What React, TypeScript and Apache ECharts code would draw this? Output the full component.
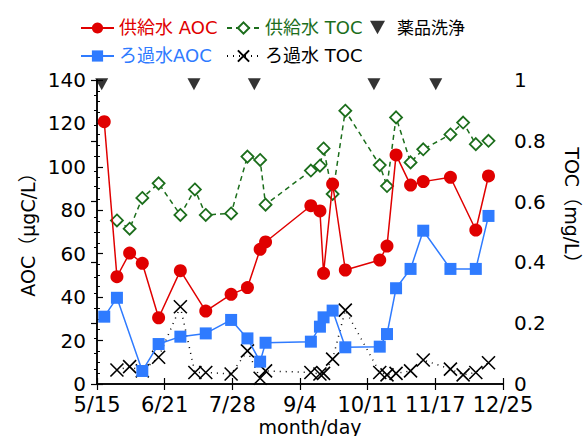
import React, { useEffect, useRef } from "react";
import * as echarts from "echarts";

// x values are days counted from 5/15
const xTickLabels = ["5/15", "6/21", "7/28", "9/4", "10/11", "11/17", "12/25"];
const xMaxDay = 224;

const supplyAocDays = [4, 11, 18, 25, 34, 46, 60, 74, 83, 90, 93, 118, 123, 125, 130, 137, 156, 160, 165, 173, 180, 195, 209, 216];
const supplyAocValues = [120.8, 49.4, 60.3, 55.6, 30.5, 52.2, 33.6, 41.3, 44.4, 62.0, 65.4, 82.1, 79.7, 51.0, 92.1, 52.5, 57.1, 63.5, 105.5, 91.6, 93.2, 95.2, 70.9, 95.8];

const supplyTocDays = [11, 18, 25, 34, 46, 54, 60, 74, 83, 90, 93, 118, 123, 125, 130, 137, 156, 160, 165, 173, 180, 195, 202, 209, 216];
const supplyTocValues = [0.538, 0.511, 0.612, 0.66, 0.556, 0.64, 0.556, 0.561, 0.748, 0.737, 0.59, 0.702, 0.718, 0.775, 0.625, 0.899, 0.72, 0.651, 0.877, 0.729, 0.772, 0.821, 0.86, 0.789, 0.8];

const filteredAocDays = [4, 11, 25, 34, 46, 60, 74, 83, 90, 93, 118, 123, 125, 130, 137, 156, 160, 165, 173, 180, 195, 209, 216];
const filteredAocValues = [31.0, 39.7, 6.0, 18.4, 21.8, 23.3, 29.5, 21.0, 10.3, 19.0, 19.5, 26.4, 30.7, 33.8, 16.9, 17.2, 23.0, 44.1, 53.0, 70.6, 53.0, 53.0, 77.4];

const filteredTocDays = [11, 18, 25, 34, 46, 54, 60, 74, 83, 90, 93, 118, 123, 125, 130, 137, 156, 160, 165, 173, 180, 195, 202, 209, 216];
const filteredTocValues = [0.046, 0.057, 0.043, 0.088, 0.254, 0.038, 0.038, 0.033, 0.109, 0.019, 0.043, 0.038, 0.033, 0.035, 0.082, 0.243, 0.038, 0.03, 0.035, 0.043, 0.079, 0.049, 0.03, 0.038, 0.07];

const cleaningDays = [2.6, 53.5, 86.8, 152.8, 186.9];
const cleaningLevel = 138.0;

const FONT = "'DejaVu Sans', 'Noto Sans CJK JP', sans-serif";
const RED = "#e00000";
const GREEN = "#1c6e1c";
const BLUE = "#2f7bff";
const BLACK = "#000000";

const zip = (xs: number[], ys: number[]) => xs.map((x, i) => [x, ys[i]]);

export default function App() {
  const ref = useRef<HTMLDivElement>(null);
  useEffect(() => {
    document.body.style.margin = "0";
    if (!ref.current) return;
    const chart = echarts.init(ref.current, null, { renderer: "svg" });
    const step = xMaxDay / 6;
    const xLabel = (v: number) => xTickLabels[Math.round(v / step)] ?? "";
    const axisLine = { show: true, lineStyle: { color: BLACK, width: 1.5 } };
    const legendBase = {
      itemWidth: 33,
      itemHeight: 14,
      selectedMode: false,
      textStyle: { fontSize: 18, fontFamily: FONT },
    };
    chart.setOption({
      animation: false,
      backgroundColor: "#ffffff",
      textStyle: { fontFamily: FONT },
      grid: { left: 97, right: 81, top: 80, bottom: 52, containLabel: false },
      legend: [
        { ...legendBase, left: 75, top: 14, data: [{ name: "供給水 AOC", textStyle: { color: RED } }] },
        { ...legendBase, left: 221, top: 14, data: [{ name: "供給水 TOC", textStyle: { color: GREEN } }] },
        { ...legendBase, left: 365, top: 14, itemWidth: 15, itemHeight: 14, data: [{ name: "薬品洗浄", textStyle: { color: BLACK, fontSize: 17, padding: [0, 0, 0, 7] } }] },
        { ...legendBase, left: 75, top: 42, data: [{ name: "ろ過水AOC", textStyle: { color: BLUE } }] },
        { ...legendBase, left: 221, top: 42, data: [{ name: "ろ過水 TOC", textStyle: { color: BLACK } }] },
      ],
      xAxis: [
        {
          type: "value",
          position: "bottom",
          min: 0,
          max: xMaxDay,
          interval: step,
          axisLine,
          axisTick: { show: true, inside: true, length: 6, lineStyle: { color: BLACK, width: 1.2 } },
          axisLabel: { fontSize: 21, color: BLACK, margin: 10, formatter: xLabel, fontFamily: FONT },
          splitLine: { show: false },
        },
        {
          type: "value",
          position: "top",
          min: 0,
          max: xMaxDay,
          interval: step,
          axisLine,
          axisTick: { show: true, inside: true, length: 6, lineStyle: { color: BLACK, width: 1.2 } },
          axisLabel: { show: false },
          splitLine: { show: false },
        },
      ],
      yAxis: [
        {
          type: "value",
          position: "left",
          min: 0,
          max: 140,
          interval: 20,
          axisLine,
          axisTick: { show: true, inside: true, length: 6, lineStyle: { color: BLACK, width: 1.2 } },
          minorTick: { show: true, splitNumber: 4, length: 3, lineStyle: { color: BLACK, width: 1 } },
          axisLabel: { fontSize: 20, color: BLACK, margin: 11, fontFamily: FONT },
          splitLine: { show: false },
        },
        {
          type: "value",
          position: "right",
          min: 0,
          max: 1,
          interval: 0.2,
          axisLine,
          axisTick: { show: true, inside: true, length: 6, lineStyle: { color: BLACK, width: 1.2 } },
          minorTick: { show: true, splitNumber: 4, length: 3, lineStyle: { color: BLACK, width: 1 } },
          axisLabel: {
            fontSize: 20,
            color: BLACK,
            margin: 11,
            fontFamily: FONT,
            formatter: (v: number) => String(Math.round(v * 10) / 10),
          },
          splitLine: { show: false },
        },
      ],
      graphic: [
        {
          type: "text",
          x: 28,
          y: 230,
          rotation: Math.PI / 2,
          style: { text: "AOC（μgC/L）", fontSize: 19, fontFamily: FONT, fill: BLACK, align: "center", verticalAlign: "middle" },
        },
        {
          type: "text",
          x: 572,
          y: 210,
          rotation: -Math.PI / 2,
          style: { text: "TOC（mg/L）", fontSize: 19, fontFamily: FONT, fill: BLACK, align: "center", verticalAlign: "middle" },
        },
        {
          type: "text",
          x: 310,
          y: 427,
          style: { text: "month/day", fontSize: 19, fontFamily: FONT, fill: BLACK, align: "center", verticalAlign: "middle" },
        },
      ],
      series: [
        {
          name: "供給水 AOC",
          type: "line",
          xAxisIndex: 0,
          yAxisIndex: 0,
          data: zip(supplyAocDays, supplyAocValues),
          symbol: "circle",
          symbolSize: 13,
          lineStyle: { color: RED, width: 1.5 },
          itemStyle: { color: RED },
          z: 4,
        },
        {
          name: "供給水 TOC",
          type: "line",
          xAxisIndex: 0,
          yAxisIndex: 1,
          data: zip(supplyTocDays, supplyTocValues),
          symbol: "diamond",
          symbolSize: 12,
          showAllSymbol: true,
          lineStyle: { color: GREEN, width: 1.5, type: [5, 4] },
          itemStyle: { color: "#ffffff", borderColor: GREEN, borderWidth: 1.8 },
          z: 3,
        },
        {
          name: "薬品洗浄",
          type: "scatter",
          xAxisIndex: 0,
          yAxisIndex: 0,
          data: zip(cleaningDays, cleaningDays.map(() => cleaningLevel)),
          symbol: "path://M0,0 L10,0 L5,9 Z",
          symbolSize: [13, 12],
          itemStyle: { color: BLACK },
          z: 5,
        },
        {
          name: "ろ過水AOC",
          type: "line",
          xAxisIndex: 0,
          yAxisIndex: 0,
          data: zip(filteredAocDays, filteredAocValues),
          symbol: "rect",
          symbolSize: 12,
          showAllSymbol: true,
          lineStyle: { color: BLUE, width: 1.5 },
          itemStyle: { color: BLUE },
          z: 4,
        },
        {
          name: "ろ過水 TOC",
          type: "line",
          xAxisIndex: 0,
          yAxisIndex: 1,
          data: zip(filteredTocDays, filteredTocValues),
          symbol: "path://M0,0 L10,10 M10,0 L0,10",
          symbolSize: 13,
          showAllSymbol: true,
          lineStyle: { color: BLACK, width: 1.5, type: [1, 5] },
          itemStyle: { color: "none", borderColor: BLACK, borderWidth: 1.6 },
          z: 3,
        },
      ],
    });
    return () => chart.dispose();
  }, []);
  return <div ref={ref} style={{ width: 584, height: 436 }} />;
}
